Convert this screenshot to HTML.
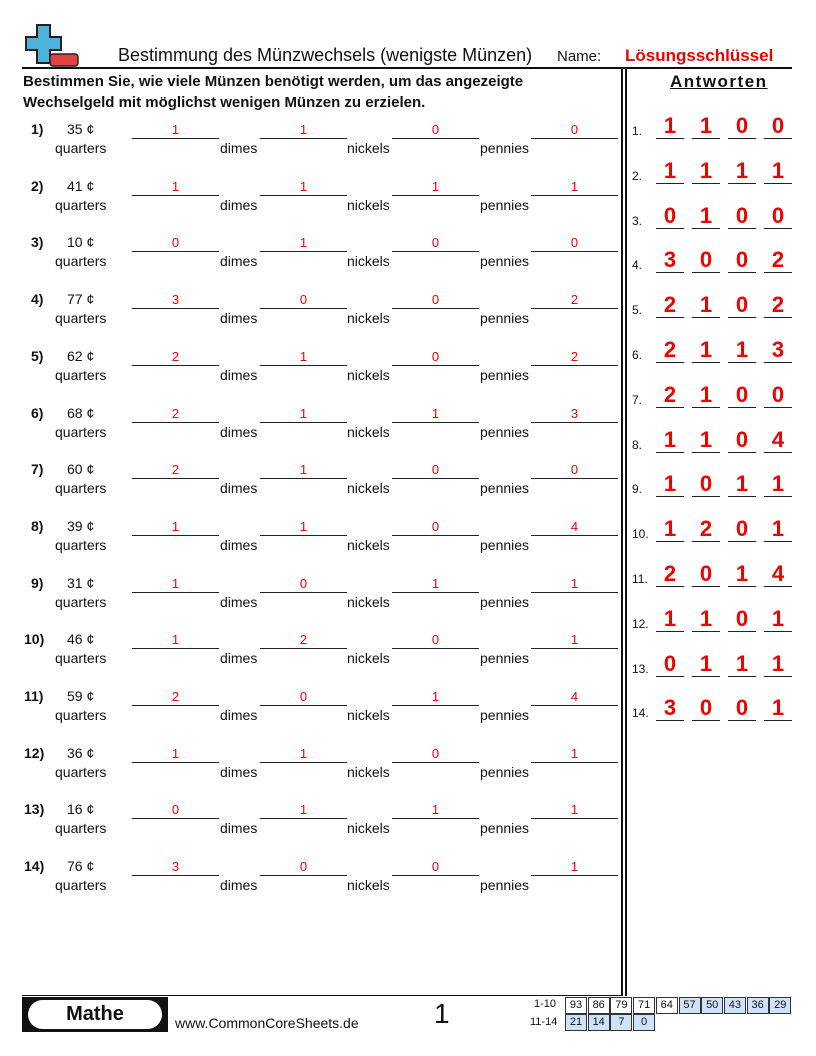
<!DOCTYPE html>
<html><head><meta charset="utf-8"><style>
body{margin:0;width:816px;height:1056px;position:relative;background:#fff;font-family:"Liberation Sans",sans-serif;color:#111;overflow:hidden}
.a{position:absolute;white-space:nowrap}
.red{color:#e00}
.ln{position:absolute;height:1px;background:#222}
.c{position:absolute;font-size:11px;text-align:center;border:1px solid #333;height:15px;line-height:15px;width:20px}
.b{background:#cfe2fb}
</style></head><body>
<svg class="a" style="left:22px;top:22px" width="60" height="46"><path d="M15 3h13v12h11v13H28v13H15V28H4V15h11z" fill="#4bb3dc" stroke="#222" stroke-width="2"/><rect x="28" y="32" width="28" height="12" rx="3" fill="#e64040" stroke="#222" stroke-width="1.5"/></svg>
<div class="a" style="left:118px;top:45px;font-size:18px">Bestimmung des Münzwechsels (wenigste Münzen)</div>
<div class="a" style="left:557px;top:48px;font-size:15px">Name:</div>
<div class="a red" style="left:625px;top:46px;font-size:17px;font-weight:bold">Lösungsschlüssel</div>
<div class="a" style="left:22px;top:67px;width:770px;height:2px;background:#111"></div>
<div class="a" style="left:621px;top:67px;width:2px;height:929px;background:#111"></div>
<div class="a" style="left:625px;top:67px;width:2px;height:929px;background:#111"></div>
<div class="a" style="left:23px;top:71px;font-size:15px;font-weight:bold;line-height:21px">Bestimmen Sie, wie viele Münzen benötigt werden, um das angezeigte<br>Wechselgeld mit möglichst wenigen Münzen zu erzielen.</div>
<div class="a" style="left:670px;top:72px;font-size:17px;font-weight:bold;text-decoration:underline;letter-spacing:1.5px">Antworten</div>
<div id="rows"></div>
<div class="a" style="left:22px;top:995px;width:600px;height:1px;background:#111"></div>
<div class="a" style="left:22px;top:997px;width:146px;height:35px;background:#111"></div>
<div class="a" style="left:28px;top:1000px;width:134px;height:29px;background:#fff;border-radius:15px;text-align:center;font-size:20px;font-weight:bold;line-height:29px">Mathe</div>
<div class="a" style="left:175px;top:1015px;font-size:14px">www.CommonCoreSheets.de</div>
<div class="a" style="left:434px;top:998px;font-size:28px">1</div>
<div class="a" style="left:534px;top:998px;font-size:11px">1-10</div>
<div class="a" style="left:530px;top:1016px;font-size:11px">11-14</div>
<div id="tb"></div>
<script>
var d=[[35,1,1,0,0],[41,1,1,1,1],[10,0,1,0,0],[77,3,0,0,2],[62,2,1,0,2],[68,2,1,1,3],[60,2,1,0,0],[39,1,1,0,4],[31,1,0,1,1],[46,1,2,0,1],[59,2,0,1,4],[36,1,1,0,1],[16,0,1,1,1],[76,3,0,0,1]];
var h='';
d.forEach(function(r,i){var y=121+i*56.7;
h+='<div class="a" style="left:'+(i<9?31:24)+'px;top:'+y+'px;font-size:14px;font-weight:bold">'+(i+1)+')</div>';
h+='<div class="a" style="left:67px;top:'+y+'px;font-size:14px">'+r[0]+' ¢</div>';
h+='<div class="a" style="left:55px;top:'+(y+19)+'px;font-size:14px">quarters</div>';
var bx=[132,260,392,531],lb=[['dimes',220],['nickels',347],['pennies',480]];
bx.forEach(function(x,j){h+='<div class="ln" style="left:'+x+'px;top:'+(y+17)+'px;width:87px"></div><div class="a red" style="left:'+x+'px;width:87px;text-align:center;top:'+(y+1)+'px;font-size:13px">'+r[j+1]+'</div>';});
lb.forEach(function(l){h+='<div class="a" style="left:'+l[1]+'px;top:'+(y+19)+'px;font-size:14px">'+l[0]+'</div>';});
var ay=114+i*44.8;
h+='<div class="a" style="left:632px;top:'+(ay+10)+'px;font-size:12px">'+(i+1)+'.</div>';
[656,692,728,764].forEach(function(x,j){h+='<div class="ln" style="left:'+x+'px;top:'+(ay+24)+'px;width:28px"></div><div class="a red" style="left:'+x+'px;width:28px;text-align:center;top:'+(ay-1)+'px;font-size:22px;font-weight:bold">'+r[j+1]+'</div>';});
});
document.getElementById('rows').innerHTML=h;
var t='',a=[93,86,79,71,64,57,50,43,36,29],b=[21,14,7,0];
a.forEach(function(v,i){t+='<div class="c'+(i>=5?' b':'')+'" style="left:'+(565+i*22.7)+'px;top:997px">'+v+'</div>';});
b.forEach(function(v,i){t+='<div class="c b" style="left:'+(565+i*22.7)+'px;top:1014px">'+v+'</div>';});
document.getElementById('tb').innerHTML=t;
</script>
</body></html>
